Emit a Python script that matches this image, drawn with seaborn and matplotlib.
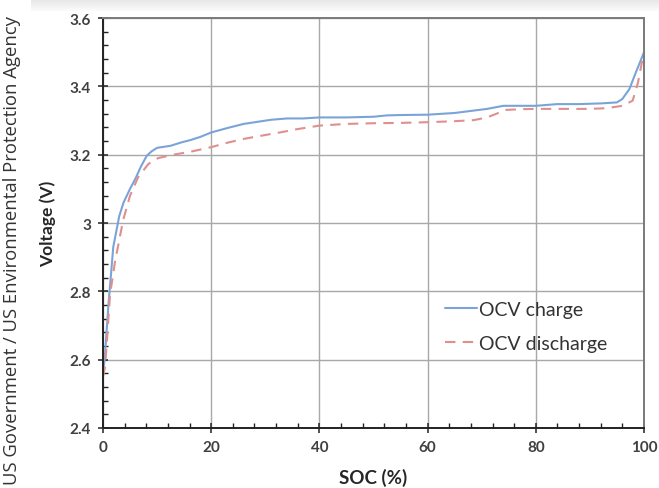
import numpy as np
import pandas as pd
import matplotlib
matplotlib.use("Agg")
import matplotlib.pyplot as plt
import seaborn as sns
from matplotlib.ticker import MultipleLocator, FuncFormatter

# ---- data ----
soc_charge = [0, 0.3, 1.0, 1.9, 3.0, 3.8, 5.0, 6.0, 7.0, 8.1, 9.0, 10.0, 12.5, 14.5,
              16, 18, 20, 23, 26, 28.5, 31, 34, 37, 40, 45, 50, 52.5, 55, 60, 65,
              68, 71, 74, 77, 80, 84, 88, 92, 95, 96, 97.3, 98.5, 99.5, 100]
v_charge = [2.56, 2.60, 2.76, 2.93, 3.02, 3.06, 3.10, 3.13, 3.165, 3.197, 3.21, 3.22,
            3.226, 3.236, 3.242, 3.252, 3.265, 3.278, 3.29, 3.296, 3.302, 3.306, 3.306,
            3.309, 3.309, 3.311, 3.315, 3.316, 3.317, 3.322, 3.328, 3.334, 3.343, 3.343,
            3.343, 3.348, 3.348, 3.350, 3.353, 3.363, 3.392, 3.441, 3.48, 3.50]

soc_discharge = [0, 0.4, 1.3, 2.2, 3.0, 3.75, 5.0, 6.5, 8.4, 10.2, 13, 16, 20, 23, 26,
                 28, 32.7, 36, 40, 45, 50, 55, 60, 65, 68.5, 71, 74.5, 77, 80, 85, 90,
                 93, 96, 97.9, 98.9, 99.6, 100]
v_discharge = [2.55, 2.58, 2.79, 2.885, 2.95, 3.01, 3.08, 3.134, 3.173, 3.19, 3.20,
               3.208, 3.222, 3.235, 3.246, 3.252, 3.265, 3.275, 3.285, 3.29, 3.292,
               3.293, 3.295, 3.298, 3.301, 3.309, 3.331, 3.333, 3.334, 3.334, 3.334,
               3.336, 3.343, 3.358, 3.412, 3.47, 3.49]

series_labels = ["OCV charge", "OCV discharge"]
x_label = "SOC (%)"
y_label = "Voltage (V)"
credit = "US Government / US Environmental Protection Agency"

# ---- style ----
sns.set_theme(style="white")
plt.rcParams["font.family"] = ["Lato", "DejaVu Sans"]

W, H = 659, 489
fig = plt.figure(figsize=(W / 100, H / 100), dpi=100)
fig.patch.set_facecolor("white")

# top shadow strip
sax = fig.add_axes([31 / W, 1 - 12 / H, 1 - 31 / W, 12 / H])
grad = np.linspace(0.90, 0.98, 12).reshape(-1, 1)
sax.imshow(np.repeat(grad, 10, axis=1), cmap="gray", vmin=0, vmax=1, aspect="auto")
sax.set_axis_off()

ax = fig.add_axes([103 / W, 1 - 429 / H, (644 - 103) / W, (429 - 19) / H])

blue = "#7aa4d8"
red = "#e08f8f"
sns.lineplot(x=soc_charge, y=v_charge, ax=ax, color=blue, linewidth=1.5,
             sort=False, label=series_labels[0])
sns.lineplot(x=soc_discharge, y=v_discharge, ax=ax, color=red, linewidth=1.5,
             sort=False, label=series_labels[1], dashes=False)
ax.lines[1].set_dashes((5, 3.5))

ax.set_xlim(0, 100)
ax.set_ylim(2.4, 3.6)
ax.xaxis.set_major_locator(MultipleLocator(20))
ax.xaxis.set_minor_locator(MultipleLocator(4))
ax.yaxis.set_major_locator(MultipleLocator(0.2))
ax.yaxis.set_minor_locator(MultipleLocator(0.04))
ax.yaxis.set_major_formatter(FuncFormatter(lambda v, p: f"{v:g}"))

ax.grid(True, which="major", color="#a8a8a8", linewidth=1.0)
ax.set_axisbelow(True)

for s in ["left", "bottom"]:
    ax.spines[s].set_color("#222222")
    ax.spines[s].set_linewidth(1.4)
for s in ["top", "right"]:
    ax.spines[s].set_color("#7a7a7a")
    ax.spines[s].set_linewidth(1.4)

ax.tick_params(which="major", direction="inout", length=7, width=1.1, color="#222222",
               bottom=True, left=True, labelsize=11, labelcolor="#404040", pad=5)
ax.tick_params(which="minor", direction="in", length=3.5, width=1.0, color="#222222",
               bottom=True, left=True)
for lab in ax.get_xticklabels() + ax.get_yticklabels():
    lab.set_fontweight("bold")

ax.set_xlabel(x_label, fontsize=13.5, fontweight="bold", color="#262626", labelpad=10)
ax.set_ylabel(y_label, fontsize=12.5, fontweight="bold", color="#262626", labelpad=10)

leg = ax.legend(loc="center left", bbox_to_anchor=(0.632, 0.248), frameon=False,
                fontsize=14, handlelength=1.65, handletextpad=0.1,
                labelspacing=0.9, borderpad=0, borderaxespad=0)
for t in leg.get_texts():
    t.set_color("#333333")

fig.text(12 / W, 4 / H, credit, rotation=90, ha="center", va="bottom",
         fontsize=13.3, color="#333333", family=["Open Sans", "DejaVu Sans"])

fig.savefig("out.png", dpi=100)
